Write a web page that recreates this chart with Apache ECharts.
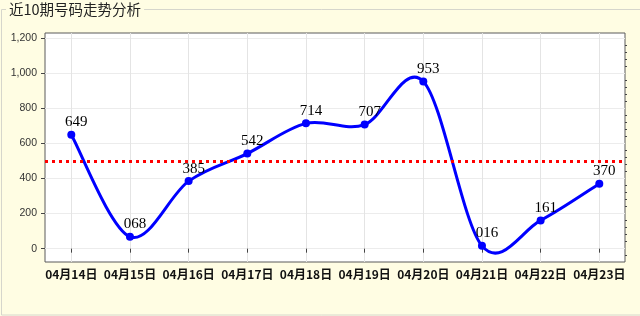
<!DOCTYPE html>
<html><head><meta charset="utf-8">
<script src="https://cdn.jsdelivr.net/npm/echarts@6/dist/echarts.min.js"></script>
<style>html,body{margin:0;padding:0;background:#fffde3;}#c{width:640px;height:316px;}</style>
</head><body><div id="c"></div>
<script>
const chartTitle = '近10期号码走势分析';
const categories = ['04月14日','04月15日','04月16日','04月17日','04月18日','04月19日','04月20日','04月21日','04月22日','04月23日'];
const values = [649, 68, 385, 542, 714, 707, 953, 16, 161, 370];
const valueLabels = ['649','068','385','542','714','707','953','016','161','370'];
const yTicks = [0, 200, 400, 600, 800, 1000, 1200];
const yMinorTicks = [-40,40,80,120,160,240,280,320,360,440,480,520,560,640,680,720,760,840,880,920,960,1040,1080,1120,1160];
const refLine = 500;
const yMin = -76, yMax = 1229;

const chart = echarts.init(document.getElementById('c'), null, {renderer: 'canvas'});
const gridTop = 33, gridBottom = 54;

// Cardinal (Catmull-Rom) spline through the points, positioned by the axes
function renderSpline(params, api) {
  if (params.dataIndex !== 0) return null;
  const pts = values.map((v, i) => api.coord([i, v]));
  const n = pts.length;
  let d = 'M' + pts[0][0] + ' ' + pts[0][1];
  const k = 1 / 6;
  for (let i = 0; i < n - 1; i++) {
    const p0 = pts[Math.max(0, i - 1)], p1 = pts[i], p2 = pts[i + 1], p3 = pts[Math.min(n - 1, i + 2)];
    const c1x = p1[0] + (p2[0] - p0[0]) * k, c1y = p1[1] + (p2[1] - p0[1]) * k;
    const c2x = p2[0] - (p3[0] - p1[0]) * k, c2y = p2[1] - (p3[1] - p1[1]) * k;
    d += ' C' + c1x + ' ' + c1y + ' ' + c2x + ' ' + c2y + ' ' + p2[0] + ' ' + p2[1];
  }
  return {type: 'path', shape: {pathData: d},
    style: {fill: null, stroke: '#0000ff', lineWidth: 3, lineJoin: 'round'}};
}

chart.setOption({
  animation: false,
  backgroundColor: '#fffde3',
  graphic: [
    {type: 'rect', z: -10, shape: {x: 1.5, y: 9.5, width: 700, height: 305.5},
     style: {fill: null, stroke: '#d6d6cc', lineWidth: 1}},
    {type: 'text', z: -5, left: 6, top: 2,
     style: {text: chartTitle, font: '14.5px "Noto Sans CJK SC"', fill: '#222',
       backgroundColor: '#fffde3', padding: [0, 3, 0, 3]}}
  ],
  grid: [
    {left: 45, right: 15, top: gridTop, bottom: gridBottom, show: true,
     backgroundColor: '#ffffff', borderColor: '#5a5a5a', borderWidth: 1},
    {left: 71.3, right: 40.7, top: gridTop, bottom: gridBottom}
  ],
  xAxis: [
    {gridIndex: 0, type: 'value', min: 0, max: 1, show: false},
    {gridIndex: 1, type: 'category', data: categories, boundaryGap: false,
     axisLine: {show: false},
     axisTick: {show: true, length: 4, lineStyle: {color: '#444'}},
     splitLine: {show: true, lineStyle: {color: '#e4e4e4'}},
     axisLabel: {margin: 6, fontSize: 12, fontWeight: 'bold', color: '#111',
       fontFamily: '"Noto Sans CJK SC"', interval: 0}}
  ],
  yAxis: [
    {gridIndex: 0, type: 'value', min: yMin, max: yMax,
     axisLine: {show: false},
     axisTick: {show: true, length: 4, customValues: yTicks, lineStyle: {color: '#444'}},
     axisLabel: {customValues: yTicks, margin: 8, fontSize: 10.5, color: '#333',
       fontFamily: '"Liberation Sans"',
       formatter: v => v.toLocaleString('en-US')},
     splitLine: {show: true, lineStyle: {color: '#ececec'}}},
    {gridIndex: 0, type: 'value', min: yMin, max: yMax,
     axisLine: {show: false},
     axisTick: {show: true, length: 2, customValues: yMinorTicks, lineStyle: {color: '#444'}},
     axisLabel: {show: false}, splitLine: {show: false}},
    {gridIndex: 1, type: 'value', min: yMin, max: yMax, show: false}
  ],
  series: [
    {type: 'line', xAxisIndex: 0, yAxisIndex: 0, data: [], symbol: 'none',
     markLine: {silent: true, symbol: 'none', label: {show: false},
       lineStyle: {color: '#ff0000', width: 3, type: [3, 4]},
       data: [{yAxis: refLine}]}},
    {type: 'custom', xAxisIndex: 1, yAxisIndex: 2, data: values, z: 3,
     renderItem: renderSpline, clip: false},
    {type: 'scatter', xAxisIndex: 1, yAxisIndex: 2, data: values, z: 4,
     symbol: 'circle', symbolSize: 8,
     itemStyle: {color: '#0000ff', opacity: 1},
     label: {show: true, position: 'top', distance: 1, offset: [5, 0],
       formatter: p => valueLabels[p.dataIndex],
       fontFamily: '"Liberation Serif"', fontSize: 15, color: '#000'}}
  ]
});
</script></body></html>
